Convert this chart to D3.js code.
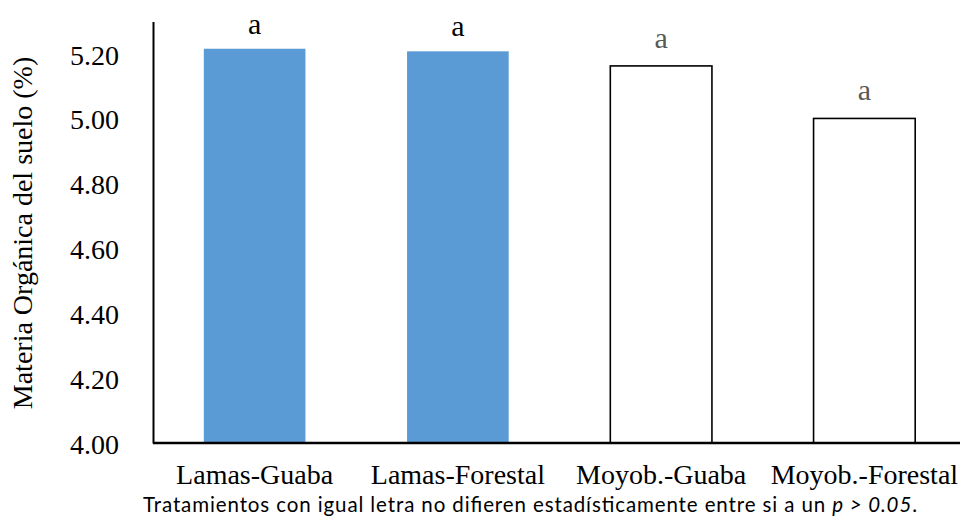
<!DOCTYPE html>
<html><head><meta charset="utf-8">
<script src="https://cdn.jsdelivr.net/npm/d3@7/dist/d3.min.js"></script>
<style>body{margin:0;background:#fff}svg{display:block}</style>
</head><body>
<svg id="chart" width="964" height="520"></svg>
<script>
const categories = ["Lamas-Guaba", "Lamas-Forestal", "Moyob.-Guaba", "Moyob.-Forestal"];
const values = [5.216, 5.208, 5.163, 5.001];
const letters = ["a", "a", "a", "a"];
const yTicks = [4.0, 4.2, 4.4, 4.6, 4.8, 5.0, 5.2];
const yTitle = "Materia Orgánica del suelo (%)";
const note = "Tratamientos con igual letra no difieren estadísticamente entre si a un ";
const noteItalic = "p > 0.05";

const svg = d3.select("#chart");
const mLeft = 153, mRight = 966, mTop = 21.5, mBottom = 443;
const x = d3.scaleBand().domain(categories).range([mLeft, mRight]).paddingInner(0.5).paddingOuter(0.25);
const y = d3.scaleLinear().domain([4.0, 5.3]).range([mBottom, mTop]);
const serif = "'Liberation Serif','Times New Roman',serif";

// bars
svg.append("g").selectAll("rect").data(values).join("rect")
  .attr("x", (d, i) => x(categories[i]))
  .attr("width", x.bandwidth())
  .attr("y", d => y(d))
  .attr("height", d => y(4.0) - y(d))
  .attr("fill", (d, i) => i < 2 ? "#5B9BD5" : "#ffffff")
  .attr("stroke", (d, i) => i < 2 ? "none" : "#000")
  .attr("stroke-width", 1.6);

// significance letters
svg.append("g").selectAll("text").data(values).join("text")
  .attr("x", (d, i) => x(categories[i]) + x.bandwidth() / 2)
  .attr("y", (d, i) => y(d) - (i < 2 ? 15 : 18))
  .attr("text-anchor", "middle")
  .style("font-family", serif)
  .style("font-size", "30px")
  .attr("fill", (d, i) => i < 2 ? "#000" : "#595959")
  .text((d, i) => letters[i]);

// y axis
const yAxis = d3.axisLeft(y).tickValues(yTicks).tickSize(0).tickPadding(34).tickFormat(d3.format(".2f"));
const gy = svg.append("g").attr("transform", `translate(${mLeft},0)`).call(yAxis)
  .attr("font-family", serif).attr("font-size", 28);
gy.select(".domain").attr("stroke", "#000").attr("stroke-width", 2);
gy.selectAll(".tick text").style("font-family", serif).style("font-size", "28px").attr("fill", "#000").attr("dy", "0.36em");

// x axis
const xAxis = d3.axisBottom(x).tickSize(0).tickPadding(21);
const gx = svg.append("g").attr("transform", `translate(0,${mBottom})`).call(xAxis)
  .attr("font-family", serif).attr("font-size", 28);
gx.select(".domain").attr("d", `M${mLeft},0H960`).attr("stroke", "#000").attr("stroke-width", 2.5);
gx.selectAll(".tick text").style("font-family", serif).style("font-size", "28px").attr("fill", "#000").attr("dy", "0.71em");

// y title
svg.append("text")
  .attr("transform", `translate(32,233) rotate(-90)`)
  .attr("text-anchor", "middle")
  .style("font-family", serif).style("font-size", "28px").attr("fill", "#000")
  .text(yTitle);

// footnote
const fn = svg.append("text").attr("x", 143).attr("y", 512)
  .style("font-family", "Lato,'Open Sans',sans-serif").style("font-size", "20.5px").attr("fill", "#000")
  .attr("textLength", 774).attr("lengthAdjust", "spacing");
fn.append("tspan").text(note);
fn.append("tspan").style("font-style", "italic").text(noteItalic);
fn.append("tspan").text(".");
</script>
</body></html>
